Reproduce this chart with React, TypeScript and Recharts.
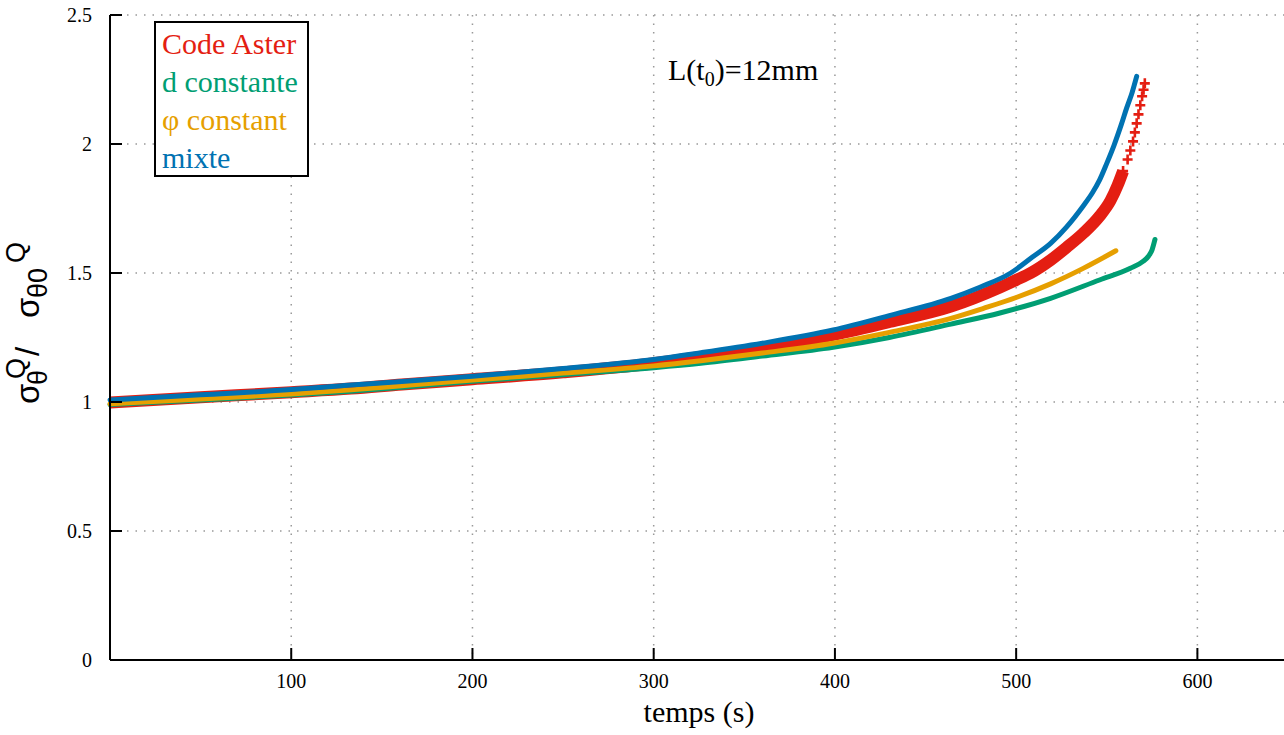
import React from "react";
import { LineChart, Line, XAxis, YAxis, CartesianGrid, Legend } from "recharts";

// temps (s) / rapport sigma_theta^Q / sigma_theta0^Q
const asterT = [0, 50, 100, 133, 161, 200, 250, 300, 326, 360, 399, 430, 464, 491, 500, 508, 519, 528, 537, 546, 552, 556, 559, 561.5, 563, 564.5, 565.5, 566.5, 567.5, 568.5, 569.5, 570.3, 571];
const asterV = [0.998, 1.018, 1.038, 1.052, 1.068, 1.088, 1.115, 1.15, 1.175, 1.21, 1.26, 1.31, 1.37, 1.444, 1.473, 1.5, 1.55, 1.6, 1.654, 1.72, 1.78, 1.84, 1.895, 1.94, 1.975, 2.01, 2.045, 2.08, 2.115, 2.15, 2.185, 2.21, 2.235];

const dConstT = [0, 50, 100, 133, 161, 200, 250, 300, 326, 360, 399, 430, 464, 491, 519, 546, 563, 570, 573, 575, 576.6];
const dConstV = [0.99, 1.008, 1.027, 1.042, 1.057, 1.08, 1.106, 1.133, 1.15, 1.178, 1.212, 1.25, 1.302, 1.345, 1.402, 1.473, 1.518, 1.545, 1.565, 1.59, 1.63];

const phiConstT = [0, 50, 100, 133, 161, 200, 250, 300, 326, 360, 399, 430, 464, 482, 500, 519, 537, 555];
const phiConstV = [0.993, 1.012, 1.031, 1.047, 1.063, 1.085, 1.112, 1.14, 1.16, 1.19, 1.228, 1.27, 1.324, 1.363, 1.405, 1.458, 1.518, 1.586];

const mixteT = [0, 50, 100, 133, 161, 200, 250, 300, 326, 360, 399, 430, 464, 480, 497, 509, 519, 528, 537, 542, 546, 550, 554, 558, 561, 564, 566.5];
const mixteV = [1.008, 1.028, 1.048, 1.066, 1.079, 1.1, 1.13, 1.165, 1.191, 1.228, 1.279, 1.335, 1.402, 1.445, 1.5, 1.562, 1.615, 1.68, 1.76, 1.81, 1.86, 1.925, 1.995, 2.075, 2.14, 2.2, 2.262];

const xTicks = [0, 100, 200, 300, 400, 500, 600];
const yTicks = [0, 0.5, 1, 1.5, 2, 2.5];

const RED = "#e41e12";
const GREEN = "#009e73";
const ORANGE = "#e69f00";
const BLUE = "#0072b2";

const SERIF = "'Liberation Serif', 'Times New Roman', serif";
const SANS = "'Liberation Sans', Arial, sans-serif";

const zip = (ts: number[], vs: number[]) => ts.map((t, i) => ({ t, v: vs[i] }));

const aster = zip(asterT, asterV);
// trait épais là où les marqueurs se confondent, croix isolées en haut
const asterBand = aster.filter((p) => p.t <= 559);
const asterMarks = aster.filter((p) => p.t >= 546);
const dConst = zip(dConstT, dConstV);
const phiConst = zip(phiConstT, phiConstV);
const mixte = zip(mixteT, mixteV);

const LEGEND = [
  { name: "Code Aster", color: RED },
  { name: "d constante", color: GREEN },
  { name: "φ constant", color: ORANGE },
  { name: "mixte", color: BLUE },
];

function BottomTick({ x, y, payload }: any) {
  if (payload.value === 0) return <g />;
  return (
    <g>
      <line x1={x} x2={x} y1={y} y2={y - 12} stroke="#000" strokeWidth={2} />
      <text x={x} y={y + 28} textAnchor="middle" fontFamily={SERIF} fontSize={20} fill="#000">
        {payload.value}
      </text>
    </g>
  );
}

function TopTick({ x, y, payload }: any) {
  if (payload.value === 0) return <g />;
  return <line x1={x} x2={x} y1={y} y2={y + 12} stroke="#000" strokeWidth={2} />;
}

function LeftTick({ x, y, payload }: any) {
  return (
    <g>
      <line x1={x} x2={x + 12} y1={y} y2={y} stroke="#000" strokeWidth={2} />
      <text x={x - 18} y={y + 7} textAnchor="end" fontFamily={SERIF} fontSize={20} fill="#000">
        {String(payload.value)}
      </text>
    </g>
  );
}

function RightTick({ x, y }: any) {
  return <line x1={x} x2={x - 14} y1={y} y2={y} stroke="#000" strokeWidth={2} />;
}

function PlusDot(props: any) {
  const { cx, cy, index } = props;
  if (cx == null || cy == null) return <g key={index} />;
  return (
    <path
      key={index}
      d={`M${cx - 5},${cy}H${cx + 5}M${cx},${cy - 5}V${cy + 5}`}
      stroke={RED}
      strokeWidth={2.6}
      fill="none"
    />
  );
}

function LegendBox() {
  return (
    <div
      style={{
        boxSizing: "border-box",
        width: 155,
        height: 156,
        border: "2px solid #000",
        background: "#fff",
        padding: "2px 0 0 6px",
        fontFamily: SERIF,
        fontSize: 30,
        lineHeight: "38px",
        whiteSpace: "nowrap",
      }}
    >
      {LEGEND.map((e) => (
        <div key={e.name} style={{ color: e.color }}>
          {e.name}
        </div>
      ))}
    </div>
  );
}

function Overlay() {
  return (
    <svg
      width={1284}
      height={735}
      style={{ position: "absolute", left: 0, top: 0, pointerEvents: "none" }}
    >
      <g transform="rotate(-90)">
        <text fontFamily={SANS} fill="#000">
          <tspan x={-404} y={39} fontSize={33}>σ</tspan>
          <tspan x={-385} y={47} fontSize={27}>θ</tspan>
          <tspan x={-379} y={25} fontSize={27}>Q</tspan>
          <tspan x={-356} y={39} fontSize={33}>/ </tspan>
          <tspan x={-318} y={39} fontSize={33}>σ</tspan>
          <tspan x={-298} y={47} fontSize={27}>θ0</tspan>
          <tspan x={-263} y={25} fontSize={27}>Q</tspan>
        </text>
      </g>
      <text x={668} y={80} fontFamily={SERIF} fontSize={30} fill="#000">
        L(t<tspan fontSize={20} dy={6}>0</tspan>
        <tspan dy={-6}>)=12mm</tspan>
      </text>
    </svg>
  );
}

export default function App() {
  return (
    <div
      style={{
        position: "absolute",
        left: 0,
        top: 0,
        width: 1284,
        height: 735,
        overflow: "hidden",
        background: "#fff",
      }}
    >
      <LineChart width={1300} height={735} margin={{ top: 15, right: 12, bottom: 0, left: 1 }}>
        <CartesianGrid stroke="#999" strokeWidth={1.5} strokeDasharray="1.5 7" />
        <XAxis
          type="number"
          dataKey="t"
          domain={[0, 650]}
          ticks={xTicks}
          interval={0}
          height={75}
          tickSize={0}
          tickMargin={0}
          tickLine={false}
          axisLine={{ stroke: "#000", strokeWidth: 2 }}
          tick={<BottomTick />}
          label={{
            value: "temps (s)",
            position: "insideBottom",
            offset: 13,
            fontFamily: SERIF,
            fontSize: 30,
            fill: "#000",
          }}
        />
        <XAxis
          xAxisId="top"
          orientation="top"
          type="number"
          dataKey="t"
          domain={[0, 650]}
          ticks={xTicks}
          interval={0}
          height={0}
          tickSize={0}
          tickMargin={0}
          tickLine={false}
          axisLine={{ stroke: "#000", strokeWidth: 2 }}
          tick={<TopTick />}
        />
        <YAxis
          type="number"
          domain={[0, 2.5]}
          ticks={yTicks}
          interval={0}
          width={109}
          tickSize={0}
          tickMargin={0}
          tickLine={false}
          axisLine={{ stroke: "#000", strokeWidth: 2 }}
          tick={<LeftTick />}
        />
        <YAxis
          yAxisId="right"
          orientation="right"
          type="number"
          domain={[0, 2.5]}
          ticks={yTicks}
          interval={0}
          width={0}
          tickSize={0}
          tickMargin={0}
          tickLine={false}
          axisLine={{ stroke: "#000", strokeWidth: 2 }}
          tick={<RightTick />}
        />
        <Legend
          layout="horizontal"
          verticalAlign="middle"
          align="center"
          wrapperStyle={{ left: 154, top: 21, width: 155, height: 156 }}
          content={() => <LegendBox />}
        />
        <Line
          type="monotone"
          data={asterBand}
          dataKey="v"
          stroke={RED}
          strokeWidth={12}
          dot={false}
          activeDot={false}
          isAnimationActive={false}
        />
        <Line
          type="monotone"
          data={asterMarks}
          dataKey="v"
          stroke="none"
          dot={PlusDot}
          activeDot={false}
          isAnimationActive={false}
        />
        <Line
          type="monotone"
          data={dConst}
          dataKey="v"
          stroke={GREEN}
          strokeWidth={5}
          strokeLinecap="round"
          dot={false}
          activeDot={false}
          isAnimationActive={false}
        />
        <Line
          type="monotone"
          data={phiConst}
          dataKey="v"
          stroke={ORANGE}
          strokeWidth={5}
          strokeLinecap="round"
          dot={false}
          activeDot={false}
          isAnimationActive={false}
        />
        <Line
          type="monotone"
          data={mixte}
          dataKey="v"
          stroke={BLUE}
          strokeWidth={5}
          strokeLinecap="round"
          dot={false}
          activeDot={false}
          isAnimationActive={false}
        />
      </LineChart>
      <Overlay />
    </div>
  );
}
